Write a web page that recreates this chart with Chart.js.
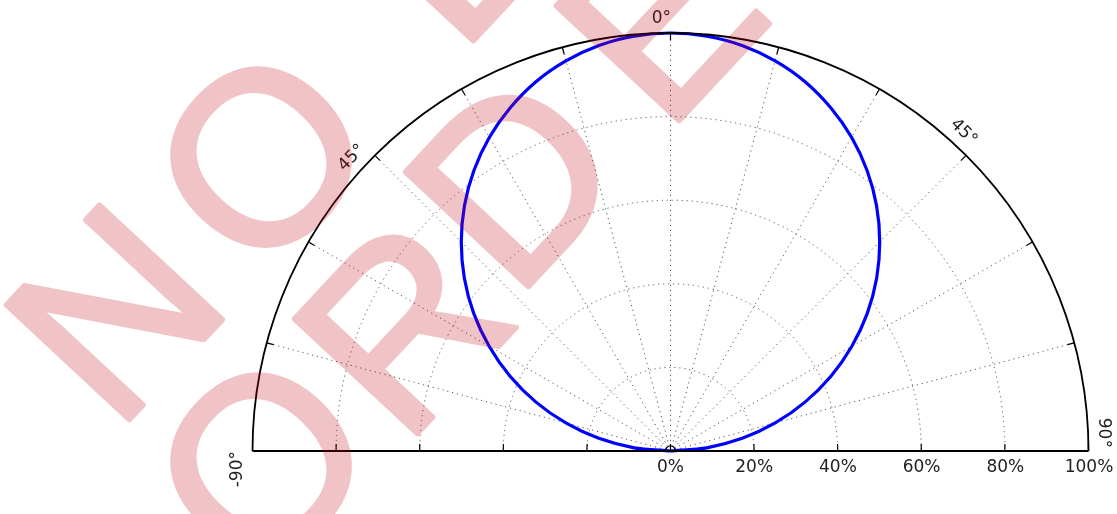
<!DOCTYPE html>
<html><head><meta charset="utf-8">
<script src="https://cdn.jsdelivr.net/npm/chart.js@4"></script>
<style>html,body{margin:0;padding:0;background:#fff;overflow:hidden}</style>
</head><body>
<canvas id="c" width="1117" height="514"></canvas>
<script>
// ---- data ----
const thetaDeg = [-90,-85,-80,-75,-70,-65,-60,-55,-50,-45,-40,-35,-30,-25,-20,-15,-10,-5,0,5,10,15,20,25,30,35,40,45,50,55,60,65,70,75,80,85,90];
const radiusPct = [0,8.7,17.4,25.9,34.2,42.3,50.0,57.4,64.3,70.7,76.6,81.9,86.6,90.6,94.0,96.6,98.5,99.6,100,99.6,98.5,96.6,94.0,90.6,86.6,81.9,76.6,70.7,64.3,57.4,50.0,42.3,34.2,25.9,17.4,8.7,0];
const radialTicks = [0,20,40,60,80,100];
const radialTickLabels = ['0%','20%','40%','60%','80%','100%'];
const angleTicks = [-90,-75,-60,-45,-30,-15,0,15,30,45,60,75,90];
const angleLabelAngles = [-90,-45,0,45,90];
const angleLabels = ['-90°','45°','0°','45°','90°'];
// watermark letters (decoration) and where their centres sit
const watermarkLetters = ['N','O','L','O','R','D','E','R'];
const watermarkCentres = [[112,310],[259,155],[442,-54],[259,461],[400,324],[511,177],[657,16],[780,-116]];

const points = thetaDeg.map((t,i)=>{
  const a = t*Math.PI/180;
  return {x: radiusPct[i]*Math.sin(a), y: radiusPct[i]*Math.cos(a)};
});

const FONT = '17px "DejaVu Sans"';

const polarPlugin = {
  id: 'polarGrid',
  beforeDatasetsDraw(chart){
    const {ctx, scales:{x,y}} = chart;
    const cx = x.getPixelForValue(0), cy = y.getPixelForValue(0);
    const R = cy - y.getPixelForValue(100);
    ctx.save();
    ctx.strokeStyle = '#555';
    ctx.lineWidth = 1;
    ctx.setLineDash([1.2,3.8]);
    radialTicks.forEach(t=>{
      if (t<=0 || t>=100) return;
      ctx.beginPath();
      ctx.arc(cx, cy, t/100*R, Math.PI, 2*Math.PI);
      ctx.stroke();
    });
    angleTicks.forEach(a=>{
      if (Math.abs(a)===90) return;
      const rad = a*Math.PI/180;
      ctx.beginPath();
      ctx.moveTo(cx, cy);
      ctx.lineTo(cx+R*Math.sin(rad), cy-R*Math.cos(rad));
      ctx.stroke();
    });
    ctx.restore();
  },
  afterDatasetsDraw(chart){
    const {ctx, scales:{x,y}} = chart;
    const cx = x.getPixelForValue(0), cy = y.getPixelForValue(0);
    const R = cy - y.getPixelForValue(100);
    ctx.save();
    ctx.setLineDash([]);
    ctx.strokeStyle = '#000';
    ctx.lineWidth = 1.8;
    ctx.beginPath();
    ctx.arc(cx, cy, R, Math.PI, 2*Math.PI);
    ctx.stroke();
    ctx.beginPath();
    ctx.moveTo(cx-R, cy); ctx.lineTo(cx+R, cy);
    ctx.stroke();
    ctx.lineWidth = 1.2;
    angleTicks.forEach(a=>{
      if (Math.abs(a)===90) return;
      const rad = a*Math.PI/180;
      const s = Math.sin(rad), c = Math.cos(rad);
      ctx.beginPath();
      ctx.moveTo(cx+R*s, cy-R*c);
      ctx.lineTo(cx+(R-7)*s, cy-(R-7)*c);
      ctx.stroke();
    });
    radialTicks.forEach(t=>{
      const r = t/100*R;
      if (r<=0){
        ctx.beginPath(); ctx.arc(cx, cy, 5, Math.PI, 2*Math.PI); ctx.stroke();
        ctx.beginPath(); ctx.moveTo(cx, cy); ctx.lineTo(cx, cy-7); ctx.stroke();
        return;
      }
      const d = 7/r;
      ctx.beginPath(); ctx.arc(cx, cy, r, -d, 0); ctx.stroke();
      if (t<100){ ctx.beginPath(); ctx.arc(cx, cy, r, Math.PI, Math.PI+d); ctx.stroke(); }
    });
    ctx.fillStyle = '#222';
    ctx.font = FONT;
    ctx.textAlign = 'center';
    ctx.textBaseline = 'alphabetic';
    radialTicks.forEach((t,i)=>{
      ctx.fillText(radialTickLabels[i], x.getPixelForValue(t), cy+21);
    });
    ctx.textBaseline = 'middle';
    angleLabelAngles.forEach((a,i)=>{
      const pa = (a===0 ? -1.2 : a-2.4)*Math.PI/180;
      const rr = R+16;
      const px = cx + rr*Math.sin(pa), py = cy - rr*Math.cos(pa);
      ctx.save();
      ctx.translate(px, py);
      ctx.rotate(a*Math.PI/180);
      ctx.fillText(angleLabels[i], 0, 1);
      ctx.restore();
    });
    ctx.restore();
  },
  afterDraw(chart){
    const ctx = chart.ctx;
    const off = document.createElement('canvas');
    off.width = chart.width; off.height = chart.height;
    const o = off.getContext('2d');
    o.fillStyle = 'rgb(190,0,16)';
    o.strokeStyle = 'rgb(190,0,16)';
    o.lineWidth = 5;
    o.lineJoin = 'round';
    o.font = '245px "Liberation Sans"';
    o.textAlign = 'center';
    o.textBaseline = 'alphabetic';
    const ang = -47*Math.PI/180;
    const capHalf = 0.358*245;
    watermarkLetters.forEach((ch,i)=>{
      const [px,py] = watermarkCentres[i];
      o.save(); o.translate(px, py); o.rotate(ang);
      o.fillText(ch, 0, capHalf);
      o.strokeText(ch, 0, capHalf);
      o.restore();
    });
    ctx.save();
    ctx.globalAlpha = 0.23;
    ctx.drawImage(off, 0, 0);
    ctx.restore();
  }
};

new Chart(document.getElementById('c'), {
  type: 'scatter',
  data: {
    datasets: [{
      data: points,
      showLine: true,
      borderColor: '#0000ff',
      backgroundColor: '#0000ff',
      borderWidth: 3.2,
      pointRadius: 0,
      tension: 0.3,
      clip: false
    }]
  },
  options: {
    responsive: false,
    devicePixelRatio: 1,
    animation: false,
    layout: {padding: {left: 252, right: 28, top: 33, bottom: 63}},
    scales: {
      x: {type: 'linear', min: -100, max: 100, display: false},
      y: {type: 'linear', min: 0, max: 100, display: false}
    },
    plugins: {legend: {display: false}, tooltip: {enabled: false}}
  },
  plugins: [polarPlugin]
});
</script>
</body></html>
